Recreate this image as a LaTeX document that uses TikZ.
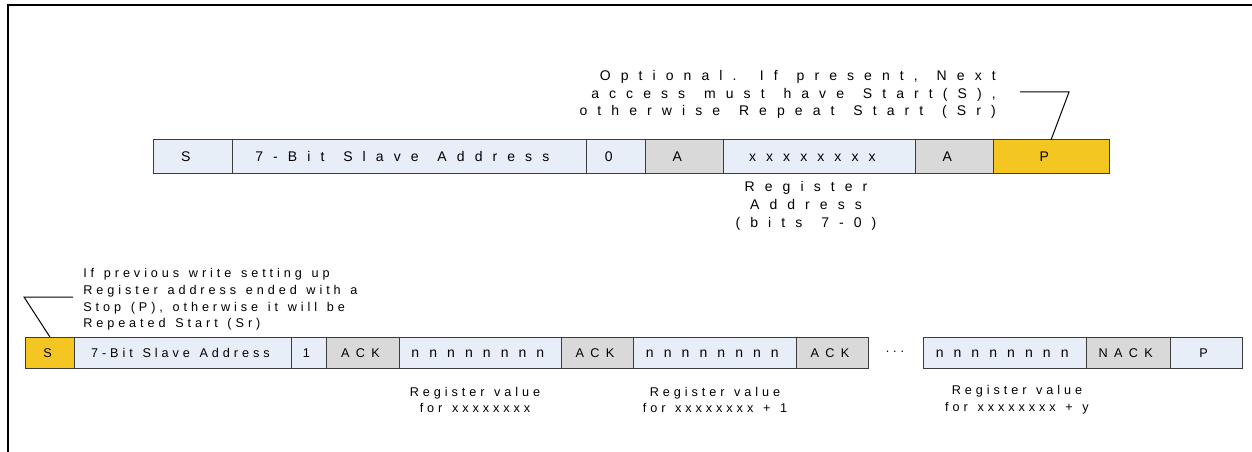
\documentclass[tikz,border=0pt]{standalone}
\usepackage{fontspec}
\setmainfont{Liberation Sans}
\newfontfamily\widefont[LetterSpace=72,WordSpace=1.35]{Liberation Sans}
\newfontfamily\midfont[LetterSpace=50]{Liberation Sans}
\newfontfamily\tightfont[LetterSpace=31,WordSpace=1.3]{Liberation Sans}
\usepackage{tikz}
\usetikzlibrary{positioning}
\definecolor{cblue}{RGB}{232,238,247}
\definecolor{cgray}{RGB}{217,217,217}
\definecolor{cyellow}{RGB}{244,198,34}
\definecolor{cline}{RGB}{60,60,60}

\begin{document}
\begin{tikzpicture}[x=0.75pt,y=-0.75pt,
  wd/.style={minimum width=#1*0.75pt},
  box/.style={draw=cline,line width=0.75pt,inner sep=0pt,outer sep=0pt,anchor=west},
  upper row/.style={box,minimum height=34*0.75pt,text height=7.5pt,text depth=0pt,
    font=\widefont\fontsize{10.5}{13.2}\selectfont,execute at end node={\kern10pt}},
  lower row/.style={box,minimum height=31*0.75pt,text height=6.8pt,text depth=0pt,
    font=\tightfont\fontsize{9.5}{12.5}\selectfont,execute at end node={\kern3.5pt}},
  wide text/.style={font=\widefont\fontsize{10.5}{13.2}\selectfont},
  mid text/.style={font=\midfont\fontsize{9.5}{12.5}\selectfont},
  data node/.style={fill=cblue},
  ack node/.style={fill=cgray},
  cond node/.style={fill=cyellow},
  upper note/.style={inner sep=0pt,font=\widefont\fontsize{10.5}{13.2}\selectfont},
  lower note/.style={inner sep=0pt,font=\tightfont\fontsize{9.5}{12.6}\selectfont},
  callout/.style={draw=black,line width=0.75pt}]
  \useasboundingbox (0,0) rectangle (1252,452);
  \draw[line width=1.5pt] (8,452) -- (8,5) -- (1252,5);

  % write of the register address
  \node[upper row,data node,wd=79] (1) at (153,157) {S};
  \node[upper row,data node,wd=354,right=0pt of 1] (2) {7-Bit Slave Address};
  \node[upper row,data node,wd=59,right=0pt of 2] (3) {0};
  \node[upper row,ack node,wd=78,right=0pt of 3] (4) {A};
  \node[upper row,data node,wd=192,right=0pt of 4] (5) {xxxxxxxx};
  \node[upper row,ack node,wd=78,right=0pt of 5] (6) {A};
  \node[upper row,cond node,wd=116,right=0pt of 6] (7) {P};

  \node[upper note,align=right,anchor=east] (opt) at (996,94.5)
    {Optional. If present, Next\\access must have Start(S),\\otherwise Repeat Start (Sr)};
  \node[upper note,align=center,font=\widefont\fontsize{10.5}{13.5}\selectfont] (regaddr) at (806,206)
    {Register\\Address\\(bits 7-0)};
  \coordinate (c1) at (1020,92);
  \coordinate (c2) at (1069,92);
  \draw[callout] (c1) -- (c2) -- (7.north);

  % read of the register values
  \node[lower row,cond node,wd=48.5] (8) at (25.7,352.5) {S};
  \node[lower row,data node,wd=217,right=0pt of 8] (9) {7-Bit Slave Address};
  \node[lower row,data node,wd=35,right=0pt of 9] (10) {1};
  \node[lower row,ack node,mid text,wd=73,right=0pt of 10] (11) {ACK};
  \node[lower row,data node,wide text,wd=162,right=0pt of 11] (12) {nnnnnnnn};
  \node[lower row,ack node,mid text,wd=72,right=0pt of 12] (13) {ACK};
  \node[lower row,data node,wide text,wd=163,right=0pt of 13] (14) {nnnnnnnn};
  \node[lower row,ack node,mid text,wd=72,right=0pt of 14] (15) {ACK};
  \node[lower note] (dots) at (895,352) {...};
  \node[lower row,data node,wide text,wd=163] (16) at (923,352.5) {nnnnnnnn};
  \node[lower row,ack node,mid text,wd=84,right=0pt of 16] (17) {NACK};
  \node[lower row,data node,wd=72,right=0pt of 17] (18) {P};

  \node[lower note,align=left,anchor=west] (prev) at (83,299.5)
    {If previous write setting up\\Register address ended with a\\Stop (P), otherwise it will be\\Repeated Start (Sr)};
  \node[lower note,align=center] (val1) at (475,400) {Register value\\for xxxxxxxx};
  \node[lower note,align=center] (val2) at (715,400) {Register value\\for xxxxxxxx + 1};
  \node[lower note,align=center] (val3) at (1017,400) {Register value\\for xxxxxxxx + y};
  \coordinate (c3) at (73,297);
  \coordinate (c4) at (24,297);
  \draw[callout] (c3) -- (c4) -- (8.north);
\end{tikzpicture}
\end{document}
